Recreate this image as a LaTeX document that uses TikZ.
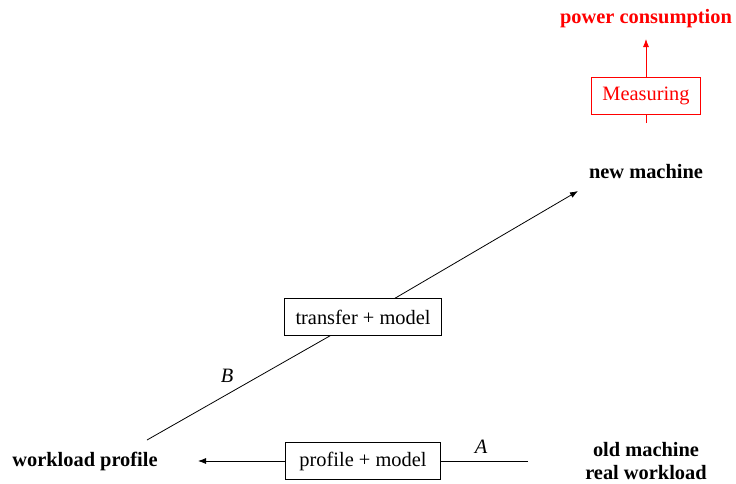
\documentclass[tikz,border=0pt]{standalone}
\usepackage{fontspec}
\setmainfont{Liberation Serif}
\usetikzlibrary{positioning, arrows.meta}

\begin{document}
\begin{tikzpicture}[
    x=1pt, y=-1pt,
    every node/.style={font=\fontsize{20.4}{23}\selectfont},
    label/.style={font=\fontsize{20.4}{23}\selectfont\bfseries, align=center},
    box/.style={rectangle, draw, inner xsep=11pt, minimum height=37pt},
    stepbox/.style={box, minimum width=155pt},
    arrow/.style={-{Latex[length=8pt, width=6pt]}, line width=0.8pt},
    measured/.style={draw=red, text=red}
]
\useasboundingbox (0,0) rectangle (736,483);

% Machines and results
\node (wp) [label] at (85,461) {workload profile};
\node (old) [label] at (646,461) {old machine\\real workload};
\node (new) [label] at (646,172) {new machine};
\node (pow) [label, text=red] at (646,19) {power consumption};

% Steps
\node (pm) [stepbox] at (363,461) {profile + model};
\node (tm) [stepbox] at (363,317) {transfer + model};
\node (meas) [box, measured] at (646,96) {Measuring};

% Free ends
\coordinate (aStart) at (528,461);
\coordinate (aEnd) at (198,461);
\coordinate (bStart) at (147,440);
\coordinate (bEnd) at (578,191);
\coordinate (mStart) at (646,123);
\coordinate (mEnd) at (646,39);

% Arrows
\draw [arrow] (aStart) -- (pm) -- (aEnd);
\draw [arrow] (bStart) -- (tm) -- (bEnd);
\draw [arrow, red] (mStart) -- (meas) -- (mEnd);

% Path names
\node (a) at (481,447) {\itshape A};
\node (b) at (227,376) {\itshape B};

\end{tikzpicture}
\end{document}
